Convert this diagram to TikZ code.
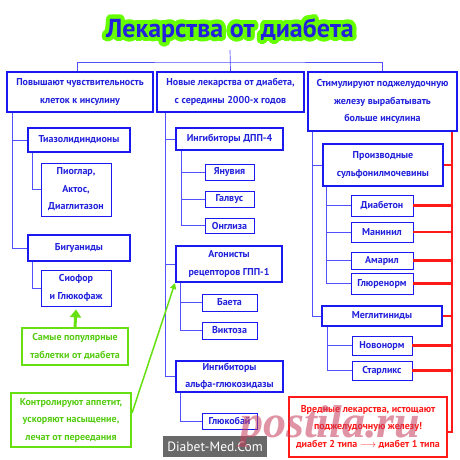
\documentclass[tikz,border=0pt]{standalone}
\usepackage{fontspec}
\setmainfont{PT Sans}
\newfontfamily\wmfont{Liberation Serif}
\usetikzlibrary{arrows.meta,calc}
\definecolor{bd}{HTML}{1A1AF0}
\definecolor{tx}{HTML}{2222DD}
\definecolor{lc}{HTML}{5050FF}
\definecolor{gr}{HTML}{66E010}
\definecolor{grt}{HTML}{55CC11}
\definecolor{glow}{HTML}{66FF00}
\definecolor{rd}{HTML}{FF1A1A}
\definecolor{wm}{HTML}{C83C5A}
\newcommand\mybox[7]{\node[#1, minimum width={(#5-#3)*1pt}, minimum height={(#6-#4)*1pt}] (#2) at ({(#3+#5)/2},{(#4+#6)/2}) {#7};}
\tikzset{
  base/.style={inner sep=0pt, align=center, fill=white, text=tx, font=\fontsize{10}{17.5}\selectfont\bfseries},
  bigbox/.style={base, draw=bd, line width=2pt},
  leaf/.style={base, draw=bd, line width=0.8pt},
  grbox/.style={base, draw=gr, line width=2pt, text=grt},
  redbox/.style={base, draw=rd, line width=1.6pt, text=rd},
  conn/.style={draw=lc, line width=0.7pt},
  redl/.style={draw=rd, line width=2.4pt},
  titlefont/.style={font=\fontsize{26}{28}\selectfont\bfseries},
}
\begin{document}
\begin{tikzpicture}[x=1pt,y=-1pt]
\useasboundingbox (0,0) rectangle (460,460);
\fill[white] (0,0) rectangle (460,460);
% title with glow
\foreach \a in {0,15,...,345}{
  \node[text=glow, titlefont] (glow\a) at ($(230,30.5)+(\a:4)$) {Лекарства от диабета};
}
\node[text=tx, titlefont] (title) at (230,30.5) {Лекарства от диабета};
\coordinate (ttop) at (230,50);
\coordinate (hub) at (230,62);
\coordinate (rc) at (452,131);
\coordinate (rb) at (452,432);

% level 1
\mybox{bigbox}{b1}{7}{72}{153}{112}{Повышают чувствительность\\клеток к инсулину}
\mybox{bigbox}{b2}{157}{72}{304}{112}{Новые лекарства от диабета,\\с середины 2000-х годов}
\mybox{bigbox}{b3}{308}{72}{457}{131}{Стимулируют поджелудочную\\железу вырабатывать\\больше инсулина}

\draw[conn] (ttop) -- (b2.north);
\draw[conn] ([xshift=-3pt]b1.north) |- (hub) -| (b3.north);

% column 1
\mybox{bigbox}{t1}{28}{128}{130}{152}{Тиазолидиндионы}
\mybox{leaf}{p1}{41}{163}{111}{216}{\fontsize{10}{15.5}\selectfont Пиоглар,\\Актос,\\Диаглитазон}
\mybox{bigbox}{bg}{28}{235}{130}{261}{Бигуаниды}
\mybox{leaf}{sf}{41}{270}{111}{306}{Сиофор\\и Глюкофаж}
\draw[conn] ([xshift=6pt]b1.south west) |- (t1.west);
\draw[conn] ([xshift=6pt]b1.south west) |- (bg.west);
\draw[conn] ([xshift=5pt]t1.south west) |- (p1.west);
\draw[conn] ([xshift=5pt]bg.south west) |- (sf.west);

\mybox{grbox}{g1}{22}{328}{128}{365}{\fontsize{10}{16}\selectfont Самые популярные\\таблетки от диабета}
\mybox{grbox}{g2}{11}{393}{131}{447}{\fontsize{10}{15}\selectfont Контролируют аппетит,\\ускоряют насыщение,\\лечат от переедания}

% column 2
\mybox{bigbox}{d4}{176}{128}{283}{150}{Ингибиторы ДПП-4}
\mybox{leaf}{ja}{205}{164}{254}{180}{Янувия}
\mybox{leaf}{ga}{205}{191}{254}{207}{Галвус}
\mybox{leaf}{on}{205}{218}{254}{233}{Онглиза}
\mybox{bigbox}{ag}{176}{246}{282}{282}{\fontsize{10}{16}\selectfont Агонисты\\рецепторов ГПП-1}
\mybox{leaf}{ba}{202}{294}{257}{311}{Баета}
\mybox{leaf}{vi}{202}{322}{257}{339}{Виктоза}
\mybox{bigbox}{al}{176}{361}{283}{392}{\fontsize{10}{16}\selectfont Ингибиторы\\альфа-глюкозидазы}
\mybox{leaf}{gl}{202}{413}{257}{429}{Глюкобай}

\draw[conn] ([xshift=9pt]b2.south west) |- (d4.west);
\draw[conn] ([xshift=9pt]b2.south west) |- (ag.west);
\draw[conn] ([xshift=9pt]b2.south west) |- (al.west);
\draw[conn] ([xshift=6pt]d4.south west) |- (ja.west);
\draw[conn] ([xshift=6pt]d4.south west) |- (ga.west);
\draw[conn] ([xshift=6pt]d4.south west) |- (on.west);
\draw[conn] ([xshift=5pt]ag.south west) |- (ba.west);
\draw[conn] ([xshift=5pt]ag.south west) |- (vi.west);
\draw[conn] ([xshift=5pt]al.south west) |- (gl.west);

% column 3
\mybox{bigbox}{pr}{323}{144}{443}{186}{Производные\\сульфонилмочевины}
\mybox{leaf}{db}{351}{195}{413}{216}{Диабетон}
\mybox{leaf}{mn}{351}{222}{413}{242}{Манинил}
\mybox{leaf}{am}{351}{252}{413}{269}{Амарил}
\mybox{leaf}{gr}{351}{273}{413}{294}{Глюренорм}
\mybox{bigbox}{me}{322}{306}{442}{326}{Меглитиниды}
\mybox{leaf}{nv}{352}{336}{412}{355}{Новонорм}
\mybox{leaf}{st}{352}{361}{412}{380}{Старликс}

\draw[conn] ([xshift=5pt]b3.south west) |- (pr.west);
\draw[conn] ([xshift=5pt]b3.south west) |- (me.west);
\draw[conn] ([xshift=4pt]pr.south west) |- (db.west);
\draw[conn] ([xshift=4pt]pr.south west) |- (mn.west);
\draw[conn] ([xshift=4pt]pr.south west) |- (am.west);
\draw[conn] ([xshift=4pt]pr.south west) |- (gr.west);
\draw[conn] ([xshift=6pt]me.south west) |- (nv.west);
\draw[conn] ([xshift=6pt]me.south west) |- (st.west);

\mybox{redbox}{vr}{289}{397}{447}{457}{\fontsize{10}{18}\selectfont Вредные лекарства, истощают\\поджелудочную железу!\\диабет 2 типа $\longrightarrow$ диабет 1 типа}

% red lines
\draw[redl] (b3.south -| rc) -- (rb) -- (rb -| vr.east);
\foreach \n in {pr,db,mn,am,gr,me,nv,st}{
  \draw[redl] (\n.east) -- (\n.east -| rc);
}

% green arrows
\draw[draw=gr, line width=3pt, -{Triangle[width=11pt,length=8pt]}] (g1.north) -- ([yshift=-3pt]sf.south);
\draw[draw=gr, line width=1.5pt, -{Triangle[width=6pt,length=6pt]}] ($(g2.east)+(0,-7)$) -- (ag.south west);

% watermarks
\node[fill=black!65, fill opacity=0.9, text opacity=1, text=white, inner sep=0pt, minimum width=104pt, minimum height=21pt, font=\fontsize{13.5}{15}\selectfont] (dm) at (215,446.5) {Diabet-Med.Com};
\node[anchor=base west, text=wm, text opacity=0.55, inner sep=0pt, font=\wmfont\fontsize{46}{50}\selectfont\bfseries\itshape] (pst) at (240,437) {postila.ru};
\end{tikzpicture}
\end{document}
